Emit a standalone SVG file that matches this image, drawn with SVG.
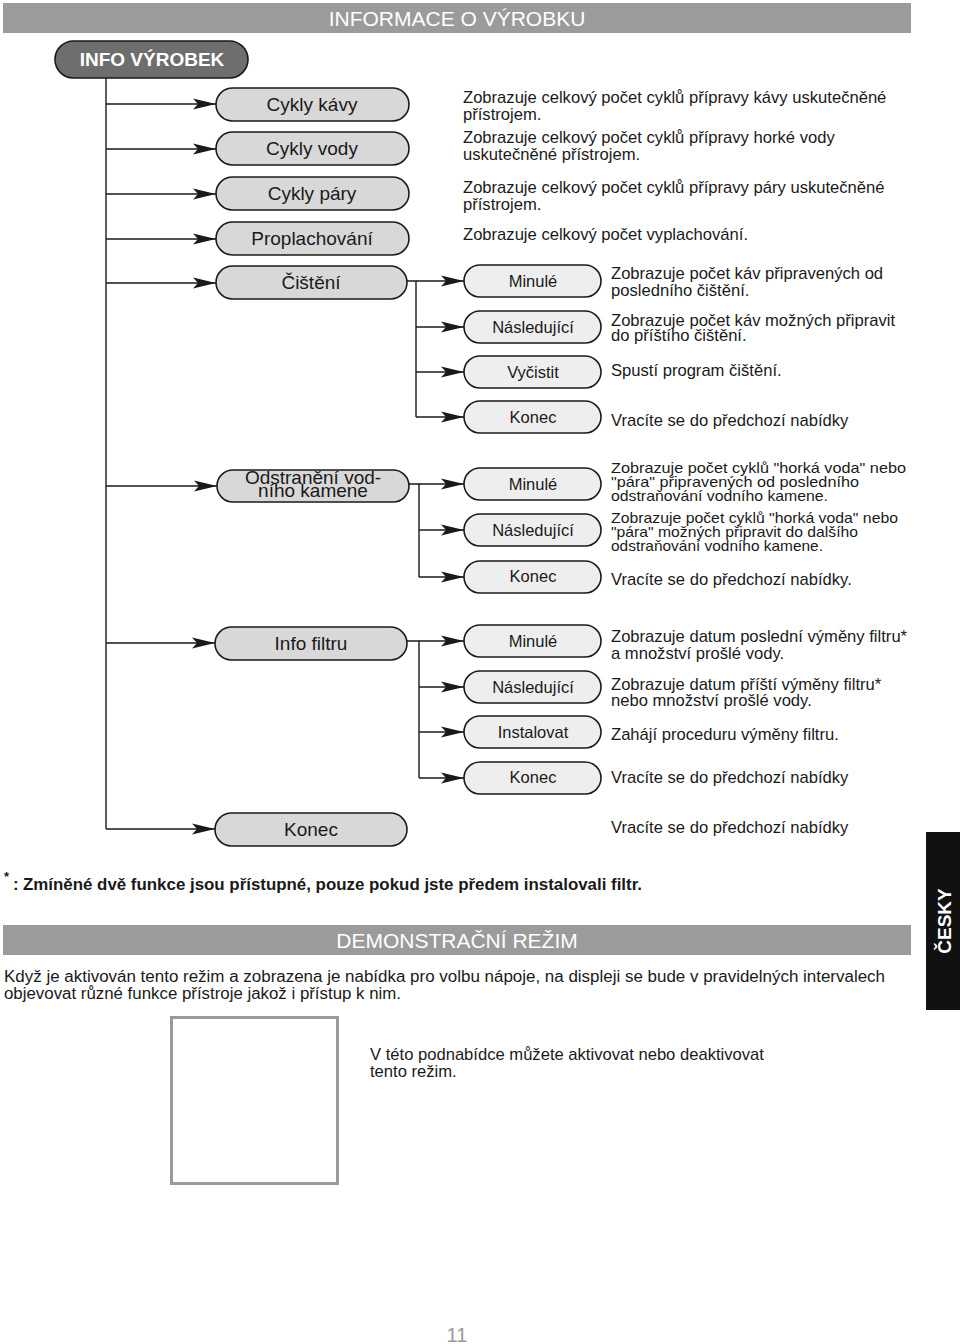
<svg xmlns="http://www.w3.org/2000/svg" width="960" height="1344" viewBox="0 0 960 1344">
<defs>
<marker id="arr" markerUnits="userSpaceOnUse" markerWidth="24" markerHeight="12" refX="23" refY="6" orient="auto">
<path d="M0,0.5 L23,6 L0,11.5 L5,6 Z" fill="#1a1a1a"/>
</marker>
<style>
text{font-family:"Liberation Sans",Arial,sans-serif;}
.bar{fill:#9b9b9b;}
.bart{fill:#fff;font-size:21px;text-anchor:middle;}
.p1{fill:#d8d8d8;stroke:#1a1a1a;stroke-width:1.6;}
.p2{fill:#eeeeee;stroke:#1a1a1a;stroke-width:1.6;}
.t1{font-size:19px;fill:#1a1a1a;text-anchor:middle;}
.t2{font-size:16.5px;fill:#1a1a1a;text-anchor:middle;}
.d{font-size:16.6px;fill:#1a1a1a;}
.ds{font-size:15px;fill:#1a1a1a;}
.c{fill:none;stroke:#1a1a1a;stroke-width:1.4;}
.ca{fill:none;stroke:#1a1a1a;stroke-width:1.4;marker-end:url(#arr);}
</style>
</defs>

<rect class="bar" x="3" y="3" width="908" height="30"/>
<text class="bart" x="457" y="26">INFORMACE O VÝROBKU</text>

<g id="connectors">
<path class="c" d="M106,78 V829"/>
<path class="ca" d="M106,104 H216"/>
<path class="ca" d="M106,149 H216"/>
<path class="ca" d="M106,194 H216"/>
<path class="ca" d="M106,239 H216"/>
<path class="ca" d="M106,283 H216"/>
<path class="ca" d="M106,486 H217"/>
<path class="ca" d="M106,643 H215"/>
<path class="ca" d="M106,829 H215"/>
<path class="c" d="M407,281 H416 V417"/>
<path class="ca" d="M416,281 H464"/>
<path class="ca" d="M416,327 H464"/>
<path class="ca" d="M416,372 H464"/>
<path class="ca" d="M416,417 H464"/>
<path class="c" d="M409,484 H419 V577"/>
<path class="ca" d="M419,484 H464"/>
<path class="ca" d="M419,530 H464"/>
<path class="ca" d="M419,577 H464"/>
<path class="c" d="M407,641 H419 V778"/>
<path class="ca" d="M419,641 H464"/>
<path class="ca" d="M419,687 H464"/>
<path class="ca" d="M419,732 H464"/>
<path class="ca" d="M419,778 H464"/>
</g>

<g id="info-vyrobek">
<rect x="55" y="41" width="193" height="37" rx="18.5" fill="#6e6e6e" stroke="#1a1a1a" stroke-width="1.6"/>
<text x="152" y="66" fill="#fff" font-size="19" font-weight="bold" text-anchor="middle">INFO VÝROBEK</text>
</g>

<g id="cykly-kavy"><rect class="p1" x="216" y="88" width="193" height="33" rx="16.5"/><text class="t1" x="312" y="111">Cykly kávy</text></g>
<g id="cykly-vody"><rect class="p1" x="216" y="132" width="193" height="33" rx="16.5"/><text class="t1" x="312" y="155">Cykly vody</text></g>
<g id="cykly-pary"><rect class="p1" x="216" y="177" width="193" height="33" rx="16.5"/><text class="t1" x="312" y="200">Cykly páry</text></g>
<g id="proplachovani"><rect class="p1" x="216" y="222" width="193" height="33" rx="16.5"/><text class="t1" x="312" y="245">Proplachování</text></g>
<g id="cisteni"><rect class="p1" x="216" y="266" width="191" height="33" rx="16.5"/><text class="t1" x="311" y="289">Čištění</text></g>
<g id="odstraneni"><rect class="p1" x="217" y="470" width="192" height="32" rx="16"/><text class="t1" x="313" y="484" font-size="18">Odstranění vod-</text><text class="t1" x="313" y="497" font-size="18">ního kamene</text></g>
<g id="info-filtru"><rect class="p1" x="215" y="627" width="192" height="33" rx="16.5"/><text class="t1" x="311" y="650">Info filtru</text></g>
<g id="konec-main"><rect class="p1" x="215" y="813" width="192" height="33" rx="16.5"/><text class="t1" x="311" y="836">Konec</text></g>

<g id="c-minule"><rect class="p2" x="464" y="265" width="137" height="32" rx="16"/><text class="t2" x="533" y="287">Minulé</text></g>
<g id="c-nasledujici"><rect class="p2" x="464" y="311" width="137" height="32" rx="16"/><text class="t2" x="533" y="333">Následující</text></g>
<g id="c-vycistit"><rect class="p2" x="464" y="356" width="137" height="32" rx="16"/><text class="t2" x="533" y="378">Vyčistit</text></g>
<g id="c-konec"><rect class="p2" x="464" y="401" width="137" height="32" rx="16"/><text class="t2" x="533" y="423">Konec</text></g>

<g id="o-minule"><rect class="p2" x="464" y="468" width="137" height="32" rx="16"/><text class="t2" x="533" y="490">Minulé</text></g>
<g id="o-nasledujici"><rect class="p2" x="464" y="514" width="137" height="32" rx="16"/><text class="t2" x="533" y="536">Následující</text></g>
<g id="o-konec"><rect class="p2" x="464" y="561" width="137" height="32" rx="16"/><text class="t2" x="533" y="582">Konec</text></g>

<g id="f-minule"><rect class="p2" x="464" y="625" width="137" height="32" rx="16"/><text class="t2" x="533" y="647">Minulé</text></g>
<g id="f-nasledujici"><rect class="p2" x="464" y="671" width="137" height="32" rx="16"/><text class="t2" x="533" y="693">Následující</text></g>
<g id="f-instalovat"><rect class="p2" x="464" y="716" width="137" height="32" rx="16"/><text class="t2" x="533" y="738">Instalovat</text></g>
<g id="f-konec"><rect class="p2" x="464" y="762" width="137" height="32" rx="16"/><text class="t2" x="533" y="783">Konec</text></g>

<g id="descriptions">
<text class="d" x="463" y="103">Zobrazuje celkový počet cyklů přípravy kávy uskutečněné</text>
<text class="d" x="463" y="120">přístrojem.</text>
<text class="d" x="463" y="143">Zobrazuje celkový počet cyklů přípravy horké vody</text>
<text class="d" x="463" y="160">uskutečněné přístrojem.</text>
<text class="d" x="463" y="193">Zobrazuje celkový počet cyklů přípravy páry uskutečněné</text>
<text class="d" x="463" y="210">přístrojem.</text>
<text class="d" x="463" y="240">Zobrazuje celkový počet vyplachování.</text>
<text class="d" x="611" y="279">Zobrazuje počet káv připravených od</text>
<text class="d" x="611" y="296">posledního čištění.</text>
<text class="d" x="611" y="326">Zobrazuje počet káv možných připravit</text>
<text class="d" x="611" y="341">do příštího čištění.</text>
<text class="d" x="611" y="376">Spustí program čištění.</text>
<text class="d" x="611" y="426">Vracíte se do předchozí nabídky</text>
<text class="ds" x="611" y="473" textLength="295" lengthAdjust="spacingAndGlyphs">Zobrazuje počet cyklů "horká voda" nebo</text>
<text class="ds" x="611" y="487" textLength="248" lengthAdjust="spacingAndGlyphs">"pára" připravených od posledního</text>
<text class="ds" x="611" y="501" textLength="217" lengthAdjust="spacingAndGlyphs">odstraňování vodního kamene.</text>
<text class="ds" x="611" y="523" textLength="287" lengthAdjust="spacingAndGlyphs">Zobrazuje počet cyklů "horká voda" nebo</text>
<text class="ds" x="611" y="537" textLength="247" lengthAdjust="spacingAndGlyphs">"pára" možných připravit do dalšího</text>
<text class="ds" x="611" y="551" textLength="212" lengthAdjust="spacingAndGlyphs">odstraňování vodního kamene.</text>
<text class="d" x="611" y="585">Vracíte se do předchozí nabídky.</text>
<text class="d" x="611" y="642">Zobrazuje datum poslední výměny filtru*</text>
<text class="d" x="611" y="659">a množství prošlé vody.</text>
<text class="d" x="611" y="690">Zobrazuje datum příští výměny filtru*</text>
<text class="d" x="611" y="706">nebo množství prošlé vody.</text>
<text class="d" x="611" y="740">Zahájí proceduru výměny filtru.</text>
<text class="d" x="611" y="783">Vracíte se do předchozí nabídky</text>
<text class="d" x="611" y="833">Vracíte se do předchozí nabídky</text>
</g>

<text x="4" y="881" font-size="13" font-weight="bold" fill="#1a1a1a">*</text>
<text x="13" y="890" font-size="17" font-weight="bold" fill="#1a1a1a">:</text>
<text x="23" y="890" font-size="16" font-weight="bold" fill="#1a1a1a" textLength="619" lengthAdjust="spacingAndGlyphs">Zmíněné dvě funkce jsou přístupné, pouze pokud jste předem instalovali filtr.</text>

<rect class="bar" x="3" y="925" width="908" height="30"/>
<text class="bart" x="457" y="948">DEMONSTRAČNÍ REŽIM</text>

<text x="4" y="982" font-size="16" fill="#1a1a1a" textLength="881" lengthAdjust="spacingAndGlyphs">Když je aktivován tento režim a zobrazena je nabídka pro volbu nápoje, na displeji se bude  v pravidelných intervalech</text>
<text x="4" y="999" font-size="16" fill="#1a1a1a" textLength="397" lengthAdjust="spacingAndGlyphs">objevovat různé funkce přístroje jakož i přístup k nim.</text>

<rect x="171.5" y="1017.5" width="166" height="166" fill="#fff" stroke="#9a9a9a" stroke-width="3"/>
<text class="d" x="370" y="1060">V této podnabídce můžete aktivovat nebo deaktivovat</text>
<text class="d" x="370" y="1077">tento režim.</text>

<rect x="926" y="832" width="34" height="178" fill="#111"/>
<text x="0" y="0" transform="translate(951,921) rotate(-90)" fill="#fff" font-size="19" font-weight="bold" text-anchor="middle">ČESKY</text>

<text x="457" y="1342" fill="#999" font-size="20" text-anchor="middle">11</text>
</svg>
